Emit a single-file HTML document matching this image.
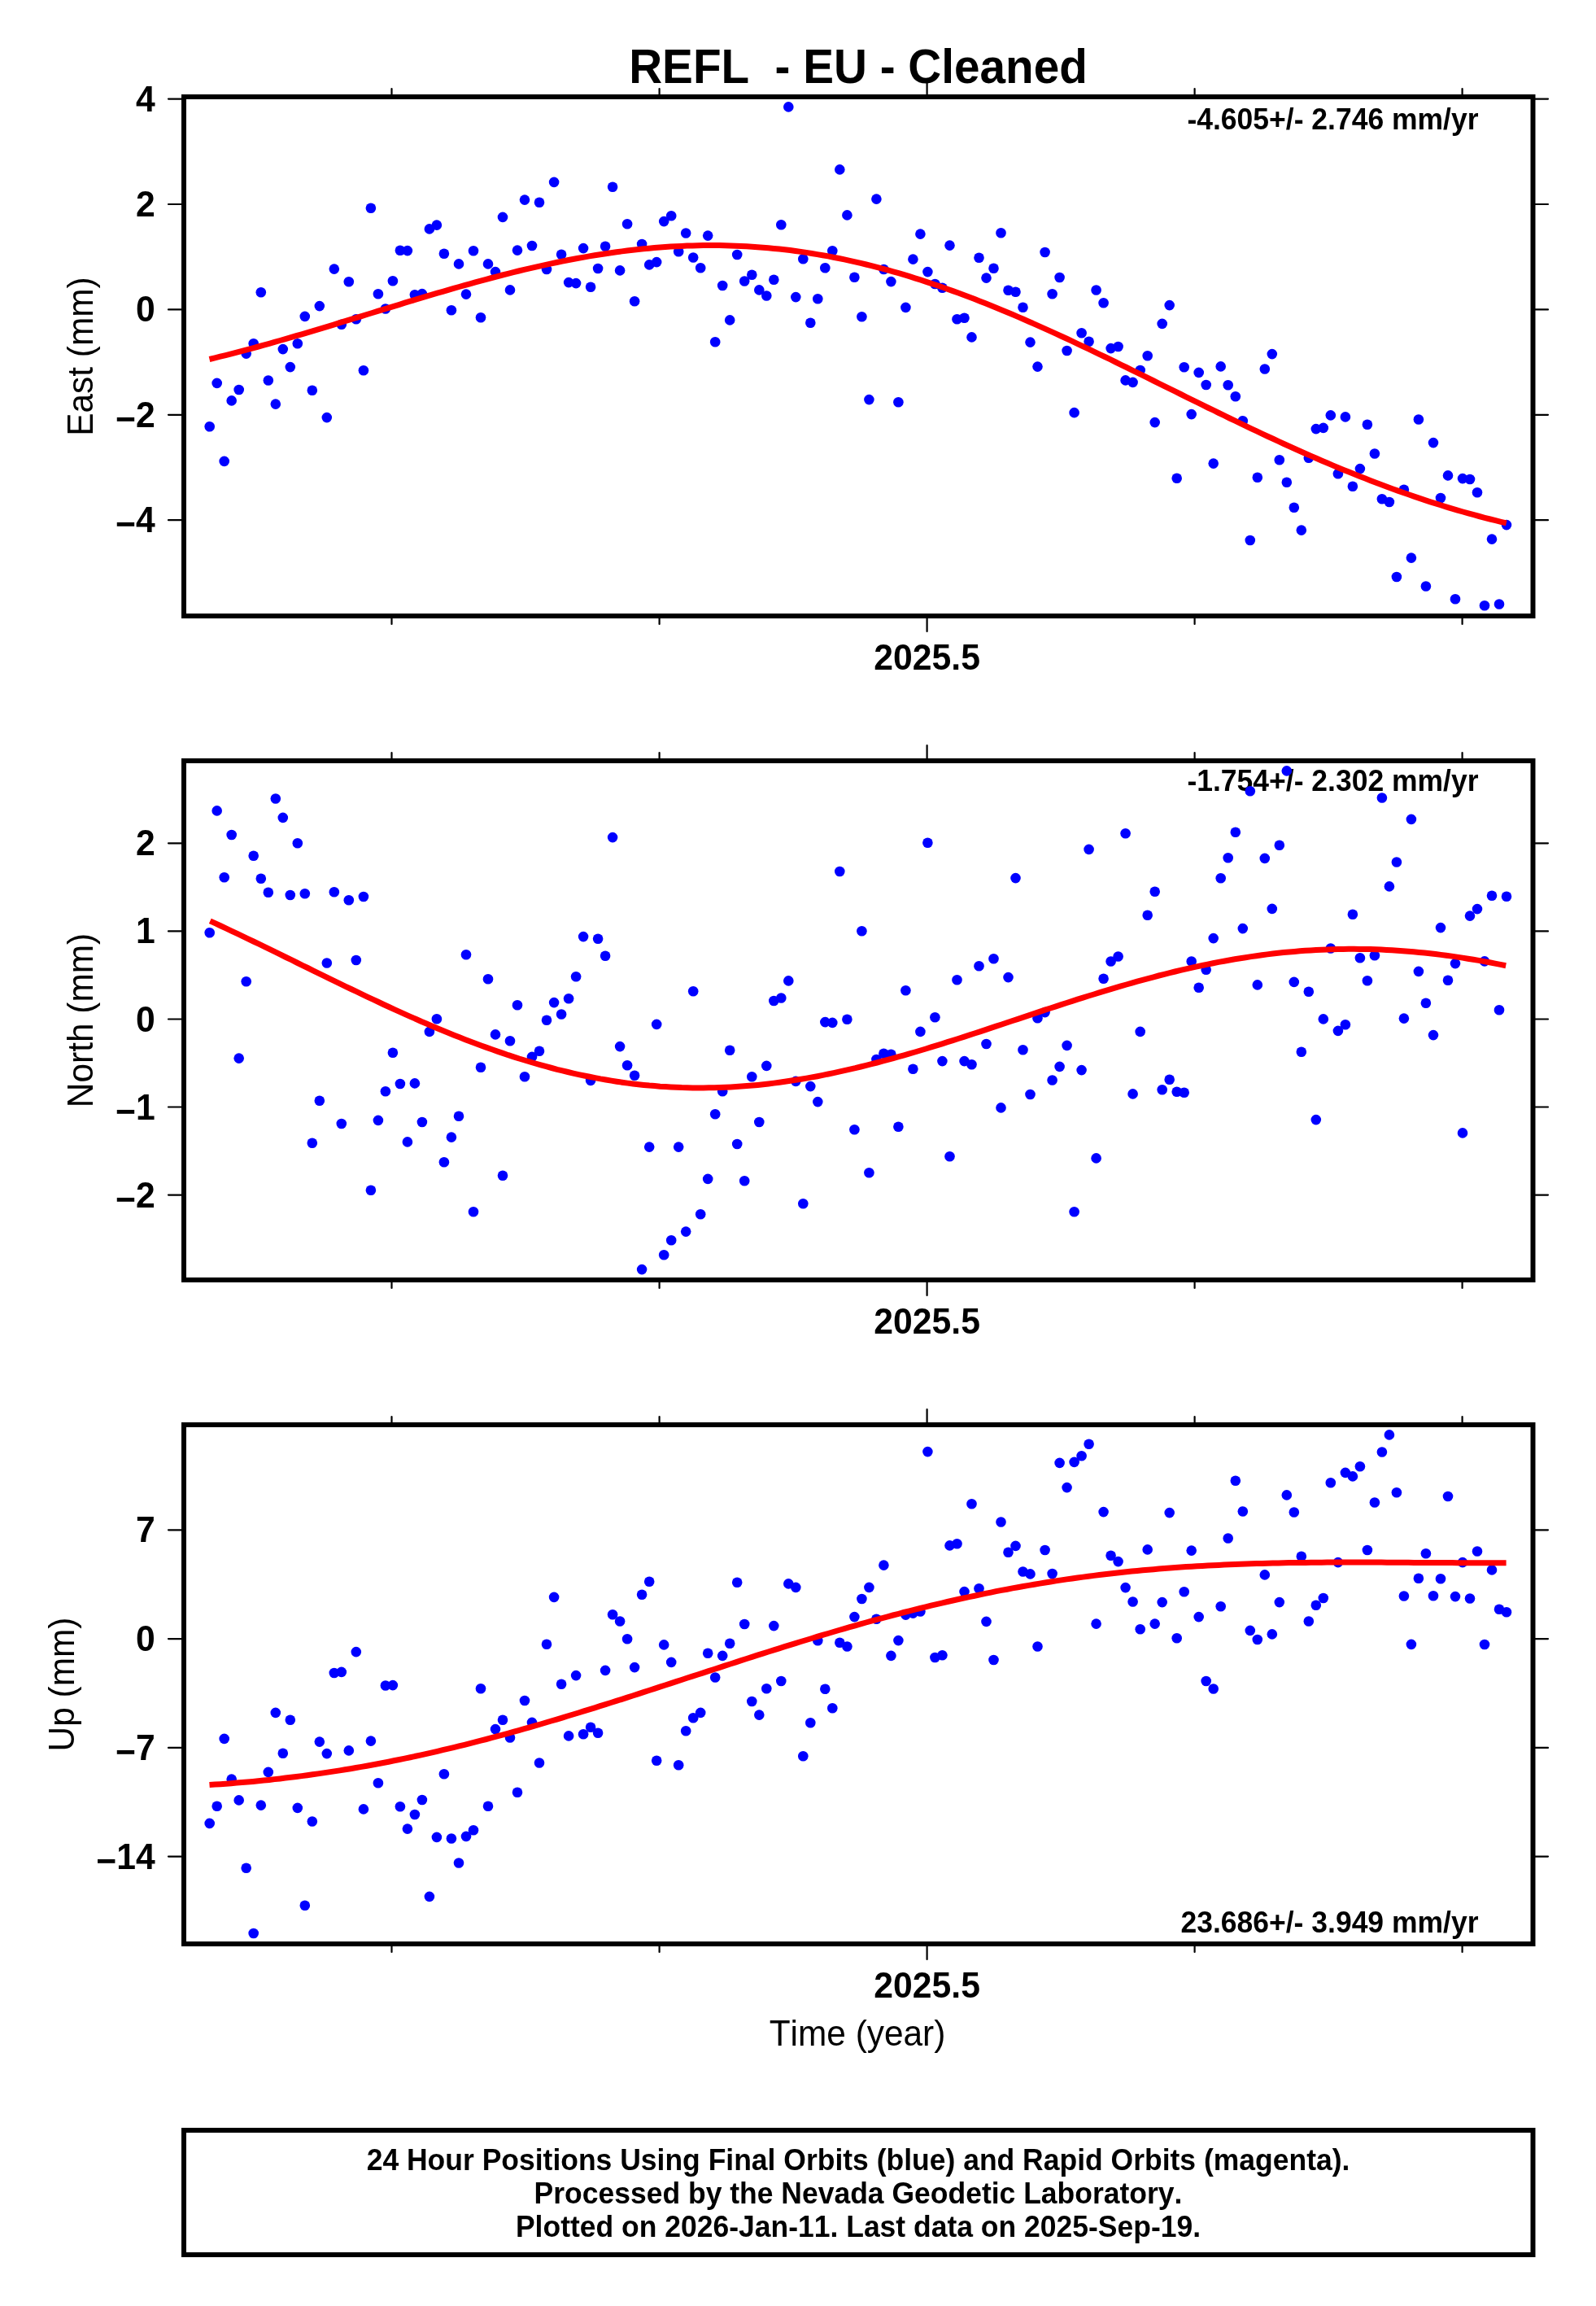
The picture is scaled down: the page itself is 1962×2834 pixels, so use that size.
<!DOCTYPE html>
<html><head><meta charset="utf-8"><style>
html,body{margin:0;padding:0;background:#fff;width:1962px;height:2834px;overflow:hidden}
svg{display:block;will-change:transform}
text{font-family:"Liberation Sans",sans-serif;font-kerning:none;white-space:pre}
.b{font-weight:bold}
.r{font-weight:normal}
.t{stroke:#000;stroke-width:2.2;stroke-linecap:round}
</style></head><body>
<svg width="1962" height="2834" viewBox="0 0 1962 2834">
<rect width="1962" height="2834" fill="#fff"/>
<text transform="translate(1055.0,101.8) scale(1,1.045)" class="b" font-size="56.7" text-anchor="middle">REFL  - EU - Cleaned</text>
<text transform="translate(1817.5,159.2) scale(1,1.045)" class="b" font-size="35.5" text-anchor="end">-4.605+/- 2.746 mm/yr</text>
<g>
<circle cx="257.7" cy="524.3" r="6.3" fill="#00f"/>
<circle cx="266.7" cy="470.9" r="6.3" fill="#00f"/>
<circle cx="275.7" cy="566.9" r="6.3" fill="#00f"/>
<circle cx="284.7" cy="492.4" r="6.3" fill="#00f"/>
<circle cx="293.7" cy="479.0" r="6.3" fill="#00f"/>
<circle cx="302.7" cy="434.6" r="6.3" fill="#00f"/>
<circle cx="311.7" cy="422.3" r="6.3" fill="#00f"/>
<circle cx="320.8" cy="359.2" r="6.3" fill="#00f"/>
<circle cx="329.8" cy="467.5" r="6.3" fill="#00f"/>
<circle cx="338.8" cy="496.6" r="6.3" fill="#00f"/>
<circle cx="347.8" cy="429.1" r="6.3" fill="#00f"/>
<circle cx="356.8" cy="451.1" r="6.3" fill="#00f"/>
<circle cx="365.8" cy="422.3" r="6.3" fill="#00f"/>
<circle cx="374.8" cy="388.9" r="6.3" fill="#00f"/>
<circle cx="383.8" cy="479.8" r="6.3" fill="#00f"/>
<circle cx="392.8" cy="376.1" r="6.3" fill="#00f"/>
<circle cx="401.8" cy="513.1" r="6.3" fill="#00f"/>
<circle cx="410.8" cy="330.6" r="6.3" fill="#00f"/>
<circle cx="419.8" cy="398.8" r="6.3" fill="#00f"/>
<circle cx="428.8" cy="346.2" r="6.3" fill="#00f"/>
<circle cx="437.8" cy="392.2" r="6.3" fill="#00f"/>
<circle cx="446.9" cy="455.3" r="6.3" fill="#00f"/>
<circle cx="455.9" cy="255.8" r="6.3" fill="#00f"/>
<circle cx="464.9" cy="361.3" r="6.3" fill="#00f"/>
<circle cx="473.9" cy="379.5" r="6.3" fill="#00f"/>
<circle cx="482.9" cy="345.3" r="6.3" fill="#00f"/>
<circle cx="491.9" cy="307.7" r="6.3" fill="#00f"/>
<circle cx="500.9" cy="308.1" r="6.3" fill="#00f"/>
<circle cx="509.9" cy="362.2" r="6.3" fill="#00f"/>
<circle cx="518.9" cy="361.1" r="6.3" fill="#00f"/>
<circle cx="527.9" cy="281.4" r="6.3" fill="#00f"/>
<circle cx="536.9" cy="276.6" r="6.3" fill="#00f"/>
<circle cx="545.9" cy="311.8" r="6.3" fill="#00f"/>
<circle cx="554.9" cy="381.2" r="6.3" fill="#00f"/>
<circle cx="564.0" cy="324.4" r="6.3" fill="#00f"/>
<circle cx="573.0" cy="361.6" r="6.3" fill="#00f"/>
<circle cx="582.0" cy="308.2" r="6.3" fill="#00f"/>
<circle cx="591.0" cy="390.3" r="6.3" fill="#00f"/>
<circle cx="600.0" cy="324.4" r="6.3" fill="#00f"/>
<circle cx="609.0" cy="334.1" r="6.3" fill="#00f"/>
<circle cx="618.0" cy="266.9" r="6.3" fill="#00f"/>
<circle cx="627.0" cy="356.4" r="6.3" fill="#00f"/>
<circle cx="636.0" cy="307.6" r="6.3" fill="#00f"/>
<circle cx="645.0" cy="245.6" r="6.3" fill="#00f"/>
<circle cx="654.0" cy="302.0" r="6.3" fill="#00f"/>
<circle cx="663.0" cy="248.7" r="6.3" fill="#00f"/>
<circle cx="672.0" cy="331.0" r="6.3" fill="#00f"/>
<circle cx="681.1" cy="223.9" r="6.3" fill="#00f"/>
<circle cx="690.1" cy="312.8" r="6.3" fill="#00f"/>
<circle cx="699.1" cy="347.1" r="6.3" fill="#00f"/>
<circle cx="708.1" cy="348.1" r="6.3" fill="#00f"/>
<circle cx="717.1" cy="305.1" r="6.3" fill="#00f"/>
<circle cx="726.1" cy="352.7" r="6.3" fill="#00f"/>
<circle cx="735.1" cy="330.0" r="6.3" fill="#00f"/>
<circle cx="744.1" cy="302.7" r="6.3" fill="#00f"/>
<circle cx="753.1" cy="229.7" r="6.3" fill="#00f"/>
<circle cx="762.1" cy="332.4" r="6.3" fill="#00f"/>
<circle cx="771.1" cy="275.2" r="6.3" fill="#00f"/>
<circle cx="780.1" cy="370.3" r="6.3" fill="#00f"/>
<circle cx="789.1" cy="300.0" r="6.3" fill="#00f"/>
<circle cx="798.2" cy="325.4" r="6.3" fill="#00f"/>
<circle cx="807.2" cy="322.1" r="6.3" fill="#00f"/>
<circle cx="816.2" cy="272.1" r="6.3" fill="#00f"/>
<circle cx="825.2" cy="265.2" r="6.3" fill="#00f"/>
<circle cx="834.2" cy="309.3" r="6.3" fill="#00f"/>
<circle cx="843.2" cy="286.5" r="6.3" fill="#00f"/>
<circle cx="852.2" cy="316.5" r="6.3" fill="#00f"/>
<circle cx="861.2" cy="329.3" r="6.3" fill="#00f"/>
<circle cx="870.2" cy="289.6" r="6.3" fill="#00f"/>
<circle cx="879.2" cy="420.3" r="6.3" fill="#00f"/>
<circle cx="888.2" cy="351.0" r="6.3" fill="#00f"/>
<circle cx="897.2" cy="393.4" r="6.3" fill="#00f"/>
<circle cx="906.2" cy="313.0" r="6.3" fill="#00f"/>
<circle cx="915.2" cy="345.5" r="6.3" fill="#00f"/>
<circle cx="924.3" cy="337.8" r="6.3" fill="#00f"/>
<circle cx="933.3" cy="356.4" r="6.3" fill="#00f"/>
<circle cx="942.3" cy="363.5" r="6.3" fill="#00f"/>
<circle cx="951.3" cy="343.8" r="6.3" fill="#00f"/>
<circle cx="960.3" cy="276.2" r="6.3" fill="#00f"/>
<circle cx="969.3" cy="131.4" r="6.3" fill="#00f"/>
<circle cx="978.3" cy="365.1" r="6.3" fill="#00f"/>
<circle cx="987.3" cy="318.2" r="6.3" fill="#00f"/>
<circle cx="996.3" cy="396.7" r="6.3" fill="#00f"/>
<circle cx="1005.3" cy="367.2" r="6.3" fill="#00f"/>
<circle cx="1014.3" cy="329.3" r="6.3" fill="#00f"/>
<circle cx="1023.3" cy="308.2" r="6.3" fill="#00f"/>
<circle cx="1032.3" cy="208.4" r="6.3" fill="#00f"/>
<circle cx="1041.4" cy="264.4" r="6.3" fill="#00f"/>
<circle cx="1050.4" cy="340.7" r="6.3" fill="#00f"/>
<circle cx="1059.4" cy="389.3" r="6.3" fill="#00f"/>
<circle cx="1068.4" cy="491.1" r="6.3" fill="#00f"/>
<circle cx="1077.4" cy="244.6" r="6.3" fill="#00f"/>
<circle cx="1086.4" cy="331.0" r="6.3" fill="#00f"/>
<circle cx="1095.4" cy="346.1" r="6.3" fill="#00f"/>
<circle cx="1104.4" cy="494.2" r="6.3" fill="#00f"/>
<circle cx="1113.4" cy="377.9" r="6.3" fill="#00f"/>
<circle cx="1122.4" cy="318.6" r="6.3" fill="#00f"/>
<circle cx="1131.4" cy="287.6" r="6.3" fill="#00f"/>
<circle cx="1140.4" cy="334.1" r="6.3" fill="#00f"/>
<circle cx="1149.4" cy="349.0" r="6.3" fill="#00f"/>
<circle cx="1158.4" cy="353.7" r="6.3" fill="#00f"/>
<circle cx="1167.5" cy="301.6" r="6.3" fill="#00f"/>
<circle cx="1176.5" cy="392.3" r="6.3" fill="#00f"/>
<circle cx="1185.5" cy="390.7" r="6.3" fill="#00f"/>
<circle cx="1194.5" cy="414.4" r="6.3" fill="#00f"/>
<circle cx="1203.5" cy="316.8" r="6.3" fill="#00f"/>
<circle cx="1212.5" cy="341.6" r="6.3" fill="#00f"/>
<circle cx="1221.5" cy="329.7" r="6.3" fill="#00f"/>
<circle cx="1230.5" cy="286.2" r="6.3" fill="#00f"/>
<circle cx="1239.5" cy="356.7" r="6.3" fill="#00f"/>
<circle cx="1248.5" cy="358.8" r="6.3" fill="#00f"/>
<circle cx="1257.5" cy="377.8" r="6.3" fill="#00f"/>
<circle cx="1266.5" cy="420.6" r="6.3" fill="#00f"/>
<circle cx="1275.5" cy="450.6" r="6.3" fill="#00f"/>
<circle cx="1284.6" cy="310.0" r="6.3" fill="#00f"/>
<circle cx="1293.6" cy="361.3" r="6.3" fill="#00f"/>
<circle cx="1302.6" cy="341.0" r="6.3" fill="#00f"/>
<circle cx="1311.6" cy="431.0" r="6.3" fill="#00f"/>
<circle cx="1320.6" cy="507.1" r="6.3" fill="#00f"/>
<circle cx="1329.6" cy="409.3" r="6.3" fill="#00f"/>
<circle cx="1338.6" cy="419.8" r="6.3" fill="#00f"/>
<circle cx="1347.6" cy="356.5" r="6.3" fill="#00f"/>
<circle cx="1356.6" cy="372.2" r="6.3" fill="#00f"/>
<circle cx="1365.6" cy="428.1" r="6.3" fill="#00f"/>
<circle cx="1374.6" cy="426.0" r="6.3" fill="#00f"/>
<circle cx="1383.6" cy="467.4" r="6.3" fill="#00f"/>
<circle cx="1392.6" cy="469.9" r="6.3" fill="#00f"/>
<circle cx="1401.7" cy="455.0" r="6.3" fill="#00f"/>
<circle cx="1410.7" cy="437.2" r="6.3" fill="#00f"/>
<circle cx="1419.7" cy="519.1" r="6.3" fill="#00f"/>
<circle cx="1428.7" cy="397.9" r="6.3" fill="#00f"/>
<circle cx="1437.7" cy="375.1" r="6.3" fill="#00f"/>
<circle cx="1446.7" cy="587.8" r="6.3" fill="#00f"/>
<circle cx="1455.7" cy="451.2" r="6.3" fill="#00f"/>
<circle cx="1464.7" cy="509.1" r="6.3" fill="#00f"/>
<circle cx="1473.7" cy="457.9" r="6.3" fill="#00f"/>
<circle cx="1482.7" cy="473.0" r="6.3" fill="#00f"/>
<circle cx="1491.7" cy="569.6" r="6.3" fill="#00f"/>
<circle cx="1500.7" cy="450.4" r="6.3" fill="#00f"/>
<circle cx="1509.7" cy="473.3" r="6.3" fill="#00f"/>
<circle cx="1518.8" cy="487.2" r="6.3" fill="#00f"/>
<circle cx="1527.8" cy="517.2" r="6.3" fill="#00f"/>
<circle cx="1536.8" cy="664.0" r="6.3" fill="#00f"/>
<circle cx="1545.8" cy="586.7" r="6.3" fill="#00f"/>
<circle cx="1554.8" cy="453.5" r="6.3" fill="#00f"/>
<circle cx="1563.8" cy="435.1" r="6.3" fill="#00f"/>
<circle cx="1572.8" cy="565.2" r="6.3" fill="#00f"/>
<circle cx="1581.8" cy="592.7" r="6.3" fill="#00f"/>
<circle cx="1590.8" cy="623.7" r="6.3" fill="#00f"/>
<circle cx="1599.8" cy="651.6" r="6.3" fill="#00f"/>
<circle cx="1608.8" cy="562.7" r="6.3" fill="#00f"/>
<circle cx="1617.8" cy="527.1" r="6.3" fill="#00f"/>
<circle cx="1626.8" cy="525.9" r="6.3" fill="#00f"/>
<circle cx="1635.8" cy="510.4" r="6.3" fill="#00f"/>
<circle cx="1644.9" cy="582.3" r="6.3" fill="#00f"/>
<circle cx="1653.9" cy="512.4" r="6.3" fill="#00f"/>
<circle cx="1662.9" cy="597.8" r="6.3" fill="#00f"/>
<circle cx="1671.9" cy="576.1" r="6.3" fill="#00f"/>
<circle cx="1680.9" cy="521.7" r="6.3" fill="#00f"/>
<circle cx="1689.9" cy="557.5" r="6.3" fill="#00f"/>
<circle cx="1698.9" cy="613.3" r="6.3" fill="#00f"/>
<circle cx="1707.9" cy="617.0" r="6.3" fill="#00f"/>
<circle cx="1716.9" cy="709.0" r="6.3" fill="#00f"/>
<circle cx="1725.9" cy="601.7" r="6.3" fill="#00f"/>
<circle cx="1734.9" cy="685.6" r="6.3" fill="#00f"/>
<circle cx="1743.9" cy="515.5" r="6.3" fill="#00f"/>
<circle cx="1752.9" cy="720.5" r="6.3" fill="#00f"/>
<circle cx="1762.0" cy="544.1" r="6.3" fill="#00f"/>
<circle cx="1771.0" cy="612.0" r="6.3" fill="#00f"/>
<circle cx="1780.0" cy="584.4" r="6.3" fill="#00f"/>
<circle cx="1789.0" cy="736.3" r="6.3" fill="#00f"/>
<circle cx="1798.0" cy="588.1" r="6.3" fill="#00f"/>
<circle cx="1807.0" cy="589.0" r="6.3" fill="#00f"/>
<circle cx="1816.0" cy="605.2" r="6.3" fill="#00f"/>
<circle cx="1825.0" cy="744.3" r="6.3" fill="#00f"/>
<circle cx="1834.0" cy="662.6" r="6.3" fill="#00f"/>
<circle cx="1843.0" cy="742.5" r="6.3" fill="#00f"/>
<circle cx="1852.0" cy="645.1" r="6.3" fill="#00f"/>
<path d="M257.5,441.5 L264.2,439.9 L270.8,438.2 L277.5,436.6 L284.2,434.9 L290.9,433.1 L297.5,431.4 L304.2,429.6 L310.9,427.8 L317.5,426.0 L324.2,424.1 L330.9,422.3 L337.5,420.4 L344.2,418.5 L350.9,416.6 L357.6,414.7 L364.2,412.7 L370.9,410.8 L377.6,408.8 L384.2,406.8 L390.9,404.8 L397.6,402.8 L404.3,400.8 L410.9,398.8 L417.6,396.7 L424.3,394.7 L430.9,392.7 L437.6,390.6 L444.3,388.6 L451.0,386.5 L457.6,384.5 L464.3,382.4 L471.0,380.4 L477.6,378.3 L484.3,376.3 L491.0,374.3 L497.6,372.2 L504.3,370.2 L511.0,368.2 L517.7,366.2 L524.3,364.2 L531.0,362.2 L537.7,360.2 L544.3,358.3 L551.0,356.3 L557.7,354.4 L564.4,352.5 L571.0,350.6 L577.7,348.8 L584.4,346.9 L591.0,345.1 L597.7,343.3 L604.4,341.5 L611.0,339.8 L617.7,338.0 L624.4,336.4 L631.1,334.7 L637.7,333.0 L644.4,331.4 L651.1,329.9 L657.7,328.3 L664.4,326.8 L671.1,325.3 L677.8,323.9 L684.4,322.5 L691.1,321.1 L697.8,319.8 L704.4,318.5 L711.1,317.3 L717.8,316.1 L724.4,314.9 L731.1,313.8 L737.8,312.7 L744.5,311.7 L751.1,310.7 L757.8,309.8 L764.5,308.9 L771.1,308.0 L777.8,307.2 L784.5,306.5 L791.2,305.8 L797.8,305.2 L804.5,304.6 L811.2,304.0 L817.8,303.5 L824.5,303.1 L831.2,302.7 L837.9,302.4 L844.5,302.1 L851.2,301.9 L857.9,301.7 L864.5,301.6 L871.2,301.6 L877.9,301.6 L884.5,301.6 L891.2,301.7 L897.9,301.9 L904.6,302.2 L911.2,302.4 L917.9,302.8 L924.6,303.2 L931.2,303.7 L937.9,304.2 L944.6,304.7 L951.3,305.4 L957.9,306.1 L964.6,306.8 L971.3,307.6 L977.9,308.5 L984.6,309.4 L991.3,310.4 L997.9,311.5 L1004.6,312.6 L1011.3,313.7 L1018.0,314.9 L1024.6,316.2 L1031.3,317.5 L1038.0,318.9 L1044.6,320.3 L1051.3,321.8 L1058.0,323.4 L1064.7,325.0 L1071.3,326.6 L1078.0,328.4 L1084.7,330.1 L1091.3,331.9 L1098.0,333.8 L1104.7,335.7 L1111.4,337.7 L1118.0,339.7 L1124.7,341.8 L1131.4,343.9 L1138.0,346.1 L1144.7,348.3 L1151.4,350.5 L1158.0,352.8 L1164.7,355.2 L1171.4,357.6 L1178.1,360.0 L1184.7,362.5 L1191.4,365.0 L1198.1,367.6 L1204.7,370.2 L1211.4,372.8 L1218.1,375.5 L1224.8,378.2 L1231.4,380.9 L1238.1,383.7 L1244.8,386.5 L1251.4,389.4 L1258.1,392.3 L1264.8,395.2 L1271.4,398.1 L1278.1,401.1 L1284.8,404.1 L1291.5,407.1 L1298.1,410.1 L1304.8,413.2 L1311.5,416.3 L1318.1,419.4 L1324.8,422.6 L1331.5,425.7 L1338.2,428.9 L1344.8,432.1 L1351.5,435.3 L1358.2,438.5 L1364.8,441.7 L1371.5,445.0 L1378.2,448.3 L1384.9,451.5 L1391.5,454.8 L1398.2,458.1 L1404.9,461.4 L1411.5,464.7 L1418.2,468.0 L1424.9,471.3 L1431.5,474.6 L1438.2,477.9 L1444.9,481.2 L1451.6,484.5 L1458.2,487.8 L1464.9,491.1 L1471.6,494.4 L1478.2,497.7 L1484.9,501.0 L1491.6,504.2 L1498.3,507.5 L1504.9,510.7 L1511.6,514.0 L1518.3,517.2 L1524.9,520.4 L1531.6,523.6 L1538.3,526.8 L1544.9,529.9 L1551.6,533.1 L1558.3,536.2 L1565.0,539.3 L1571.6,542.4 L1578.3,545.5 L1585.0,548.5 L1591.6,551.5 L1598.3,554.5 L1605.0,557.5 L1611.7,560.4 L1618.3,563.3 L1625.0,566.2 L1631.7,569.0 L1638.3,571.9 L1645.0,574.7 L1651.7,577.4 L1658.3,580.1 L1665.0,582.8 L1671.7,585.5 L1678.4,588.1 L1685.0,590.7 L1691.7,593.3 L1698.4,595.8 L1705.0,598.3 L1711.7,600.7 L1718.4,603.1 L1725.1,605.5 L1731.7,607.8 L1738.4,610.1 L1745.1,612.4 L1751.7,614.6 L1758.4,616.8 L1765.1,618.9 L1771.8,621.0 L1778.4,623.1 L1785.1,625.1 L1791.8,627.1 L1798.4,629.0 L1805.1,630.9 L1811.8,632.7 L1818.4,634.5 L1825.1,636.3 L1831.8,638.0 L1838.5,639.7 L1845.1,641.3 L1851.8,642.9" fill="none" stroke="#f00" stroke-width="7" stroke-linejoin="round"/>
</g>
<rect x="226" y="119" width="1658.5" height="638" fill="none" stroke="#000" stroke-width="6"/>
<line x1="1139.6" y1="116" x2="1139.6" y2="100" class="t"/>
<line x1="1139.6" y1="760" x2="1139.6" y2="776" class="t"/>
<line x1="481.5" y1="116" x2="481.5" y2="109" class="t"/>
<line x1="481.5" y1="760" x2="481.5" y2="767" class="t"/>
<line x1="810.6" y1="116" x2="810.6" y2="109" class="t"/>
<line x1="810.6" y1="760" x2="810.6" y2="767" class="t"/>
<line x1="1468.6" y1="116" x2="1468.6" y2="109" class="t"/>
<line x1="1468.6" y1="760" x2="1468.6" y2="767" class="t"/>
<line x1="1797.6" y1="116" x2="1797.6" y2="109" class="t"/>
<line x1="1797.6" y1="760" x2="1797.6" y2="767" class="t"/>
<line x1="207" y1="121.6" x2="223" y2="121.6" class="t"/>
<line x1="1887" y1="121.6" x2="1903" y2="121.6" class="t"/>
<text transform="translate(190.7,136.6) scale(1,1.045)" class="b" font-size="42.7" text-anchor="end">4</text>
<line x1="207" y1="251.0" x2="223" y2="251.0" class="t"/>
<line x1="1887" y1="251.0" x2="1903" y2="251.0" class="t"/>
<text transform="translate(190.7,266.0) scale(1,1.045)" class="b" font-size="42.7" text-anchor="end">2</text>
<line x1="207" y1="380.4" x2="223" y2="380.4" class="t"/>
<line x1="1887" y1="380.4" x2="1903" y2="380.4" class="t"/>
<text transform="translate(190.7,395.4) scale(1,1.045)" class="b" font-size="42.7" text-anchor="end">0</text>
<line x1="207" y1="509.8" x2="223" y2="509.8" class="t"/>
<line x1="1887" y1="509.8" x2="1903" y2="509.8" class="t"/>
<text transform="translate(190.7,524.8) scale(1,1.045)" class="b" font-size="42.7" text-anchor="end"><tspan dy="5.0">−</tspan><tspan dy="-5.0">2</tspan></text>
<line x1="207" y1="639.2" x2="223" y2="639.2" class="t"/>
<line x1="1887" y1="639.2" x2="1903" y2="639.2" class="t"/>
<text transform="translate(190.7,654.2) scale(1,1.045)" class="b" font-size="42.7" text-anchor="end"><tspan dy="5.0">−</tspan><tspan dy="-5.0">4</tspan></text>
<text transform="translate(1139.6,823.2) scale(1,1.045)" class="b" font-size="42.7" text-anchor="middle">2025.5</text>
<text transform="translate(114.0,438.0) rotate(-90) scale(1,1.045)" class="r" font-size="42.4" text-anchor="middle">East (mm)</text>
<text transform="translate(1817.5,972.3) scale(1,1.045)" class="b" font-size="35.5" text-anchor="end">-1.754+/- 2.302 mm/yr</text>
<g>
<circle cx="257.7" cy="1146.3" r="6.3" fill="#00f"/>
<circle cx="266.7" cy="996.4" r="6.3" fill="#00f"/>
<circle cx="275.7" cy="1078.3" r="6.3" fill="#00f"/>
<circle cx="284.7" cy="1026.0" r="6.3" fill="#00f"/>
<circle cx="293.7" cy="1300.6" r="6.3" fill="#00f"/>
<circle cx="302.7" cy="1206.3" r="6.3" fill="#00f"/>
<circle cx="311.7" cy="1051.8" r="6.3" fill="#00f"/>
<circle cx="320.8" cy="1079.7" r="6.3" fill="#00f"/>
<circle cx="329.8" cy="1096.7" r="6.3" fill="#00f"/>
<circle cx="338.8" cy="981.5" r="6.3" fill="#00f"/>
<circle cx="347.8" cy="1004.9" r="6.3" fill="#00f"/>
<circle cx="356.8" cy="1100.0" r="6.3" fill="#00f"/>
<circle cx="365.8" cy="1036.3" r="6.3" fill="#00f"/>
<circle cx="374.8" cy="1098.3" r="6.3" fill="#00f"/>
<circle cx="383.8" cy="1404.8" r="6.3" fill="#00f"/>
<circle cx="392.8" cy="1352.7" r="6.3" fill="#00f"/>
<circle cx="401.8" cy="1183.5" r="6.3" fill="#00f"/>
<circle cx="410.8" cy="1096.3" r="6.3" fill="#00f"/>
<circle cx="419.8" cy="1381.0" r="6.3" fill="#00f"/>
<circle cx="428.8" cy="1106.2" r="6.3" fill="#00f"/>
<circle cx="437.8" cy="1180.0" r="6.3" fill="#00f"/>
<circle cx="446.9" cy="1102.0" r="6.3" fill="#00f"/>
<circle cx="455.9" cy="1462.7" r="6.3" fill="#00f"/>
<circle cx="464.9" cy="1376.9" r="6.3" fill="#00f"/>
<circle cx="473.9" cy="1341.3" r="6.3" fill="#00f"/>
<circle cx="482.9" cy="1293.8" r="6.3" fill="#00f"/>
<circle cx="491.9" cy="1332.0" r="6.3" fill="#00f"/>
<circle cx="500.9" cy="1403.4" r="6.3" fill="#00f"/>
<circle cx="509.9" cy="1331.4" r="6.3" fill="#00f"/>
<circle cx="518.9" cy="1379.0" r="6.3" fill="#00f"/>
<circle cx="527.9" cy="1267.9" r="6.3" fill="#00f"/>
<circle cx="536.9" cy="1252.2" r="6.3" fill="#00f"/>
<circle cx="545.9" cy="1428.2" r="6.3" fill="#00f"/>
<circle cx="554.9" cy="1397.6" r="6.3" fill="#00f"/>
<circle cx="564.0" cy="1371.7" r="6.3" fill="#00f"/>
<circle cx="573.0" cy="1173.2" r="6.3" fill="#00f"/>
<circle cx="582.0" cy="1489.2" r="6.3" fill="#00f"/>
<circle cx="591.0" cy="1311.8" r="6.3" fill="#00f"/>
<circle cx="600.0" cy="1203.2" r="6.3" fill="#00f"/>
<circle cx="609.0" cy="1271.4" r="6.3" fill="#00f"/>
<circle cx="618.0" cy="1444.7" r="6.3" fill="#00f"/>
<circle cx="627.0" cy="1279.3" r="6.3" fill="#00f"/>
<circle cx="636.0" cy="1235.2" r="6.3" fill="#00f"/>
<circle cx="645.0" cy="1323.3" r="6.3" fill="#00f"/>
<circle cx="654.0" cy="1298.9" r="6.3" fill="#00f"/>
<circle cx="663.0" cy="1291.7" r="6.3" fill="#00f"/>
<circle cx="672.0" cy="1253.7" r="6.3" fill="#00f"/>
<circle cx="681.1" cy="1232.1" r="6.3" fill="#00f"/>
<circle cx="690.1" cy="1246.5" r="6.3" fill="#00f"/>
<circle cx="699.1" cy="1227.2" r="6.3" fill="#00f"/>
<circle cx="708.1" cy="1200.3" r="6.3" fill="#00f"/>
<circle cx="717.1" cy="1151.1" r="6.3" fill="#00f"/>
<circle cx="726.1" cy="1327.9" r="6.3" fill="#00f"/>
<circle cx="735.1" cy="1153.7" r="6.3" fill="#00f"/>
<circle cx="744.1" cy="1174.8" r="6.3" fill="#00f"/>
<circle cx="753.1" cy="1029.1" r="6.3" fill="#00f"/>
<circle cx="762.1" cy="1286.1" r="6.3" fill="#00f"/>
<circle cx="771.1" cy="1309.3" r="6.3" fill="#00f"/>
<circle cx="780.1" cy="1321.7" r="6.3" fill="#00f"/>
<circle cx="789.1" cy="1560.1" r="6.3" fill="#00f"/>
<circle cx="798.2" cy="1409.6" r="6.3" fill="#00f"/>
<circle cx="807.2" cy="1258.9" r="6.3" fill="#00f"/>
<circle cx="816.2" cy="1542.3" r="6.3" fill="#00f"/>
<circle cx="825.2" cy="1524.3" r="6.3" fill="#00f"/>
<circle cx="834.2" cy="1409.6" r="6.3" fill="#00f"/>
<circle cx="843.2" cy="1513.6" r="6.3" fill="#00f"/>
<circle cx="852.2" cy="1218.3" r="6.3" fill="#00f"/>
<circle cx="861.2" cy="1492.3" r="6.3" fill="#00f"/>
<circle cx="870.2" cy="1448.9" r="6.3" fill="#00f"/>
<circle cx="879.2" cy="1369.2" r="6.3" fill="#00f"/>
<circle cx="888.2" cy="1341.3" r="6.3" fill="#00f"/>
<circle cx="897.2" cy="1290.7" r="6.3" fill="#00f"/>
<circle cx="906.2" cy="1406.0" r="6.3" fill="#00f"/>
<circle cx="915.2" cy="1451.3" r="6.3" fill="#00f"/>
<circle cx="924.3" cy="1323.3" r="6.3" fill="#00f"/>
<circle cx="933.3" cy="1379.0" r="6.3" fill="#00f"/>
<circle cx="942.3" cy="1309.9" r="6.3" fill="#00f"/>
<circle cx="951.3" cy="1230.0" r="6.3" fill="#00f"/>
<circle cx="960.3" cy="1226.5" r="6.3" fill="#00f"/>
<circle cx="969.3" cy="1205.4" r="6.3" fill="#00f"/>
<circle cx="978.3" cy="1328.9" r="6.3" fill="#00f"/>
<circle cx="987.3" cy="1479.2" r="6.3" fill="#00f"/>
<circle cx="996.3" cy="1335.1" r="6.3" fill="#00f"/>
<circle cx="1005.3" cy="1354.1" r="6.3" fill="#00f"/>
<circle cx="1014.3" cy="1256.1" r="6.3" fill="#00f"/>
<circle cx="1023.3" cy="1256.9" r="6.3" fill="#00f"/>
<circle cx="1032.3" cy="1071.0" r="6.3" fill="#00f"/>
<circle cx="1041.4" cy="1252.8" r="6.3" fill="#00f"/>
<circle cx="1050.4" cy="1388.3" r="6.3" fill="#00f"/>
<circle cx="1059.4" cy="1144.2" r="6.3" fill="#00f"/>
<circle cx="1068.4" cy="1441.2" r="6.3" fill="#00f"/>
<circle cx="1077.4" cy="1302.0" r="6.3" fill="#00f"/>
<circle cx="1086.4" cy="1294.8" r="6.3" fill="#00f"/>
<circle cx="1095.4" cy="1295.8" r="6.3" fill="#00f"/>
<circle cx="1104.4" cy="1384.7" r="6.3" fill="#00f"/>
<circle cx="1113.4" cy="1217.2" r="6.3" fill="#00f"/>
<circle cx="1122.4" cy="1313.8" r="6.3" fill="#00f"/>
<circle cx="1131.4" cy="1267.9" r="6.3" fill="#00f"/>
<circle cx="1140.4" cy="1035.7" r="6.3" fill="#00f"/>
<circle cx="1149.4" cy="1250.3" r="6.3" fill="#00f"/>
<circle cx="1158.4" cy="1304.1" r="6.3" fill="#00f"/>
<circle cx="1167.5" cy="1421.3" r="6.3" fill="#00f"/>
<circle cx="1176.5" cy="1204.2" r="6.3" fill="#00f"/>
<circle cx="1185.5" cy="1304.1" r="6.3" fill="#00f"/>
<circle cx="1194.5" cy="1308.2" r="6.3" fill="#00f"/>
<circle cx="1203.5" cy="1187.2" r="6.3" fill="#00f"/>
<circle cx="1212.5" cy="1283.0" r="6.3" fill="#00f"/>
<circle cx="1221.5" cy="1178.3" r="6.3" fill="#00f"/>
<circle cx="1230.5" cy="1361.4" r="6.3" fill="#00f"/>
<circle cx="1239.5" cy="1201.1" r="6.3" fill="#00f"/>
<circle cx="1248.5" cy="1079.1" r="6.3" fill="#00f"/>
<circle cx="1257.5" cy="1290.2" r="6.3" fill="#00f"/>
<circle cx="1266.5" cy="1345.0" r="6.3" fill="#00f"/>
<circle cx="1275.5" cy="1251.3" r="6.3" fill="#00f"/>
<circle cx="1284.6" cy="1244.1" r="6.3" fill="#00f"/>
<circle cx="1293.6" cy="1327.5" r="6.3" fill="#00f"/>
<circle cx="1302.6" cy="1310.9" r="6.3" fill="#00f"/>
<circle cx="1311.6" cy="1284.9" r="6.3" fill="#00f"/>
<circle cx="1320.6" cy="1489.2" r="6.3" fill="#00f"/>
<circle cx="1329.6" cy="1315.1" r="6.3" fill="#00f"/>
<circle cx="1338.6" cy="1043.9" r="6.3" fill="#00f"/>
<circle cx="1347.6" cy="1423.4" r="6.3" fill="#00f"/>
<circle cx="1356.6" cy="1202.8" r="6.3" fill="#00f"/>
<circle cx="1365.6" cy="1181.5" r="6.3" fill="#00f"/>
<circle cx="1374.6" cy="1175.5" r="6.3" fill="#00f"/>
<circle cx="1383.6" cy="1024.3" r="6.3" fill="#00f"/>
<circle cx="1392.6" cy="1344.4" r="6.3" fill="#00f"/>
<circle cx="1401.7" cy="1267.9" r="6.3" fill="#00f"/>
<circle cx="1410.7" cy="1124.8" r="6.3" fill="#00f"/>
<circle cx="1419.7" cy="1095.8" r="6.3" fill="#00f"/>
<circle cx="1428.7" cy="1339.3" r="6.3" fill="#00f"/>
<circle cx="1437.7" cy="1326.8" r="6.3" fill="#00f"/>
<circle cx="1446.7" cy="1341.7" r="6.3" fill="#00f"/>
<circle cx="1455.7" cy="1342.8" r="6.3" fill="#00f"/>
<circle cx="1464.7" cy="1181.5" r="6.3" fill="#00f"/>
<circle cx="1473.7" cy="1213.7" r="6.3" fill="#00f"/>
<circle cx="1482.7" cy="1191.8" r="6.3" fill="#00f"/>
<circle cx="1491.7" cy="1153.1" r="6.3" fill="#00f"/>
<circle cx="1500.7" cy="1079.3" r="6.3" fill="#00f"/>
<circle cx="1509.7" cy="1054.3" r="6.3" fill="#00f"/>
<circle cx="1518.8" cy="1022.8" r="6.3" fill="#00f"/>
<circle cx="1527.8" cy="1141.1" r="6.3" fill="#00f"/>
<circle cx="1536.8" cy="972.2" r="6.3" fill="#00f"/>
<circle cx="1545.8" cy="1210.4" r="6.3" fill="#00f"/>
<circle cx="1554.8" cy="1054.9" r="6.3" fill="#00f"/>
<circle cx="1563.8" cy="1116.9" r="6.3" fill="#00f"/>
<circle cx="1572.8" cy="1038.8" r="6.3" fill="#00f"/>
<circle cx="1581.8" cy="947.4" r="6.3" fill="#00f"/>
<circle cx="1590.8" cy="1206.9" r="6.3" fill="#00f"/>
<circle cx="1599.8" cy="1292.7" r="6.3" fill="#00f"/>
<circle cx="1608.8" cy="1218.7" r="6.3" fill="#00f"/>
<circle cx="1617.8" cy="1376.1" r="6.3" fill="#00f"/>
<circle cx="1626.8" cy="1252.4" r="6.3" fill="#00f"/>
<circle cx="1635.8" cy="1165.5" r="6.3" fill="#00f"/>
<circle cx="1644.9" cy="1266.9" r="6.3" fill="#00f"/>
<circle cx="1653.9" cy="1259.3" r="6.3" fill="#00f"/>
<circle cx="1662.9" cy="1123.8" r="6.3" fill="#00f"/>
<circle cx="1671.9" cy="1177.3" r="6.3" fill="#00f"/>
<circle cx="1680.9" cy="1205.2" r="6.3" fill="#00f"/>
<circle cx="1689.9" cy="1174.2" r="6.3" fill="#00f"/>
<circle cx="1698.9" cy="980.5" r="6.3" fill="#00f"/>
<circle cx="1707.9" cy="1089.4" r="6.3" fill="#00f"/>
<circle cx="1716.9" cy="1059.5" r="6.3" fill="#00f"/>
<circle cx="1725.9" cy="1251.6" r="6.3" fill="#00f"/>
<circle cx="1734.9" cy="1006.9" r="6.3" fill="#00f"/>
<circle cx="1743.9" cy="1193.9" r="6.3" fill="#00f"/>
<circle cx="1752.9" cy="1232.7" r="6.3" fill="#00f"/>
<circle cx="1762.0" cy="1272.1" r="6.3" fill="#00f"/>
<circle cx="1771.0" cy="1140.1" r="6.3" fill="#00f"/>
<circle cx="1780.0" cy="1204.8" r="6.3" fill="#00f"/>
<circle cx="1789.0" cy="1184.1" r="6.3" fill="#00f"/>
<circle cx="1798.0" cy="1392.4" r="6.3" fill="#00f"/>
<circle cx="1807.0" cy="1125.6" r="6.3" fill="#00f"/>
<circle cx="1816.0" cy="1117.1" r="6.3" fill="#00f"/>
<circle cx="1825.0" cy="1181.4" r="6.3" fill="#00f"/>
<circle cx="1834.0" cy="1100.8" r="6.3" fill="#00f"/>
<circle cx="1843.0" cy="1241.2" r="6.3" fill="#00f"/>
<circle cx="1852.0" cy="1101.7" r="6.3" fill="#00f"/>
<path d="M258.3,1131.9 L265.0,1134.9 L271.6,1138.0 L278.3,1141.1 L285.0,1144.3 L291.6,1147.4 L298.3,1150.6 L305.0,1153.8 L311.6,1157.0 L318.3,1160.2 L324.9,1163.4 L331.6,1166.7 L338.3,1169.9 L344.9,1173.2 L351.6,1176.5 L358.3,1179.7 L364.9,1183.0 L371.6,1186.3 L378.3,1189.5 L384.9,1192.8 L391.6,1196.1 L398.3,1199.3 L404.9,1202.6 L411.6,1205.8 L418.3,1209.1 L424.9,1212.3 L431.6,1215.5 L438.3,1218.7 L444.9,1221.9 L451.6,1225.1 L458.2,1228.2 L464.9,1231.3 L471.6,1234.5 L478.2,1237.5 L484.9,1240.6 L491.6,1243.6 L498.2,1246.6 L504.9,1249.6 L511.6,1252.5 L518.2,1255.5 L524.9,1258.3 L531.6,1261.2 L538.2,1264.0 L544.9,1266.8 L551.6,1269.5 L558.2,1272.2 L564.9,1274.8 L571.5,1277.4 L578.2,1280.0 L584.9,1282.5 L591.5,1285.0 L598.2,1287.4 L604.9,1289.8 L611.5,1292.1 L618.2,1294.4 L624.9,1296.7 L631.5,1298.8 L638.2,1301.0 L644.9,1303.0 L651.5,1305.0 L658.2,1307.0 L664.9,1308.9 L671.5,1310.7 L678.2,1312.5 L684.9,1314.3 L691.5,1315.9 L698.2,1317.5 L704.8,1319.1 L711.5,1320.6 L718.2,1322.0 L724.8,1323.3 L731.5,1324.6 L738.2,1325.9 L744.8,1327.0 L751.5,1328.1 L758.2,1329.2 L764.8,1330.2 L771.5,1331.1 L778.2,1331.9 L784.8,1332.7 L791.5,1333.4 L798.2,1334.1 L804.8,1334.6 L811.5,1335.2 L818.1,1335.6 L824.8,1336.0 L831.5,1336.3 L838.1,1336.6 L844.8,1336.7 L851.5,1336.9 L858.1,1336.9 L864.8,1336.9 L871.5,1336.8 L878.1,1336.7 L884.8,1336.5 L891.5,1336.2 L898.1,1335.9 L904.8,1335.5 L911.5,1335.1 L918.1,1334.6 L924.8,1334.0 L931.5,1333.4 L938.1,1332.7 L944.8,1331.9 L951.4,1331.1 L958.1,1330.2 L964.8,1329.3 L971.4,1328.3 L978.1,1327.3 L984.8,1326.2 L991.4,1325.1 L998.1,1323.9 L1004.8,1322.7 L1011.4,1321.4 L1018.1,1320.0 L1024.8,1318.6 L1031.4,1317.2 L1038.1,1315.7 L1044.8,1314.2 L1051.4,1312.7 L1058.1,1311.0 L1064.7,1309.4 L1071.4,1307.7 L1078.1,1306.0 L1084.7,1304.2 L1091.4,1302.4 L1098.1,1300.6 L1104.7,1298.7 L1111.4,1296.8 L1118.1,1294.9 L1124.7,1293.0 L1131.4,1291.0 L1138.1,1289.0 L1144.7,1286.9 L1151.4,1284.9 L1158.1,1282.8 L1164.7,1280.7 L1171.4,1278.6 L1178.0,1276.5 L1184.7,1274.3 L1191.4,1272.2 L1198.0,1270.0 L1204.7,1267.8 L1211.4,1265.6 L1218.0,1263.4 L1224.7,1261.2 L1231.4,1259.0 L1238.0,1256.8 L1244.7,1254.5 L1251.4,1252.3 L1258.0,1250.1 L1264.7,1247.9 L1271.4,1245.7 L1278.0,1243.4 L1284.7,1241.2 L1291.4,1239.0 L1298.0,1236.9 L1304.7,1234.7 L1311.3,1232.5 L1318.0,1230.4 L1324.7,1228.2 L1331.3,1226.1 L1338.0,1224.0 L1344.7,1222.0 L1351.3,1219.9 L1358.0,1217.9 L1364.7,1215.9 L1371.3,1213.9 L1378.0,1211.9 L1384.7,1210.0 L1391.3,1208.1 L1398.0,1206.2 L1404.7,1204.4 L1411.3,1202.6 L1418.0,1200.8 L1424.6,1199.0 L1431.3,1197.3 L1438.0,1195.7 L1444.6,1194.0 L1451.3,1192.4 L1458.0,1190.9 L1464.6,1189.4 L1471.3,1187.9 L1478.0,1186.5 L1484.6,1185.1 L1491.3,1183.7 L1498.0,1182.4 L1504.6,1181.2 L1511.3,1180.0 L1518.0,1178.8 L1524.6,1177.7 L1531.3,1176.7 L1538.0,1175.6 L1544.6,1174.7 L1551.3,1173.8 L1557.9,1172.9 L1564.6,1172.1 L1571.3,1171.3 L1577.9,1170.6 L1584.6,1170.0 L1591.3,1169.4 L1597.9,1168.8 L1604.6,1168.3 L1611.3,1167.9 L1617.9,1167.5 L1624.6,1167.2 L1631.3,1166.9 L1637.9,1166.7 L1644.6,1166.5 L1651.3,1166.4 L1657.9,1166.3 L1664.6,1166.3 L1671.2,1166.4 L1677.9,1166.5 L1684.6,1166.6 L1691.2,1166.8 L1697.9,1167.1 L1704.6,1167.4 L1711.2,1167.8 L1717.9,1168.2 L1724.6,1168.7 L1731.2,1169.2 L1737.9,1169.8 L1744.6,1170.4 L1751.2,1171.1 L1757.9,1171.8 L1764.6,1172.5 L1771.2,1173.4 L1777.9,1174.2 L1784.6,1175.1 L1791.2,1176.1 L1797.9,1177.1 L1804.5,1178.2 L1811.2,1179.3 L1817.9,1180.4 L1824.5,1181.6 L1831.2,1182.8 L1837.9,1184.1 L1844.5,1185.4 L1851.2,1186.7" fill="none" stroke="#f00" stroke-width="7" stroke-linejoin="round"/>
</g>
<rect x="226" y="935" width="1658.5" height="638" fill="none" stroke="#000" stroke-width="6"/>
<line x1="1139.6" y1="932" x2="1139.6" y2="916" class="t"/>
<line x1="1139.6" y1="1576" x2="1139.6" y2="1592" class="t"/>
<line x1="481.5" y1="932" x2="481.5" y2="925" class="t"/>
<line x1="481.5" y1="1576" x2="481.5" y2="1583" class="t"/>
<line x1="810.6" y1="932" x2="810.6" y2="925" class="t"/>
<line x1="810.6" y1="1576" x2="810.6" y2="1583" class="t"/>
<line x1="1468.6" y1="932" x2="1468.6" y2="925" class="t"/>
<line x1="1468.6" y1="1576" x2="1468.6" y2="1583" class="t"/>
<line x1="1797.6" y1="932" x2="1797.6" y2="925" class="t"/>
<line x1="1797.6" y1="1576" x2="1797.6" y2="1583" class="t"/>
<line x1="207" y1="1036.3" x2="223" y2="1036.3" class="t"/>
<line x1="1887" y1="1036.3" x2="1903" y2="1036.3" class="t"/>
<text transform="translate(190.7,1051.3) scale(1,1.045)" class="b" font-size="42.7" text-anchor="end">2</text>
<line x1="207" y1="1144.4" x2="223" y2="1144.4" class="t"/>
<line x1="1887" y1="1144.4" x2="1903" y2="1144.4" class="t"/>
<text transform="translate(190.7,1159.4) scale(1,1.045)" class="b" font-size="42.7" text-anchor="end">1</text>
<line x1="207" y1="1252.5" x2="223" y2="1252.5" class="t"/>
<line x1="1887" y1="1252.5" x2="1903" y2="1252.5" class="t"/>
<text transform="translate(190.7,1267.5) scale(1,1.045)" class="b" font-size="42.7" text-anchor="end">0</text>
<line x1="207" y1="1360.5" x2="223" y2="1360.5" class="t"/>
<line x1="1887" y1="1360.5" x2="1903" y2="1360.5" class="t"/>
<text transform="translate(190.7,1375.5) scale(1,1.045)" class="b" font-size="42.7" text-anchor="end"><tspan dy="5.0">−</tspan><tspan dy="-5.0">1</tspan></text>
<line x1="207" y1="1468.6" x2="223" y2="1468.6" class="t"/>
<line x1="1887" y1="1468.6" x2="1903" y2="1468.6" class="t"/>
<text transform="translate(190.7,1483.6) scale(1,1.045)" class="b" font-size="42.7" text-anchor="end"><tspan dy="5.0">−</tspan><tspan dy="-5.0">2</tspan></text>
<text transform="translate(1139.6,1639.2) scale(1,1.045)" class="b" font-size="42.7" text-anchor="middle">2025.5</text>
<text transform="translate(114.0,1254.0) rotate(-90) scale(1,1.045)" class="r" font-size="42.4" text-anchor="middle">North (mm)</text>
<text transform="translate(1817.5,2374.6) scale(1,1.045)" class="b" font-size="35.5" text-anchor="end">23.686+/- 3.949 mm/yr</text>
<g>
<circle cx="257.7" cy="2240.9" r="6.3" fill="#00f"/>
<circle cx="266.7" cy="2219.8" r="6.3" fill="#00f"/>
<circle cx="275.7" cy="2136.9" r="6.3" fill="#00f"/>
<circle cx="284.7" cy="2186.6" r="6.3" fill="#00f"/>
<circle cx="293.7" cy="2212.4" r="6.3" fill="#00f"/>
<circle cx="302.7" cy="2295.7" r="6.3" fill="#00f"/>
<circle cx="311.7" cy="2376.0" r="6.3" fill="#00f"/>
<circle cx="320.8" cy="2218.6" r="6.3" fill="#00f"/>
<circle cx="329.8" cy="2177.9" r="6.3" fill="#00f"/>
<circle cx="338.8" cy="2104.9" r="6.3" fill="#00f"/>
<circle cx="347.8" cy="2154.7" r="6.3" fill="#00f"/>
<circle cx="356.8" cy="2113.8" r="6.3" fill="#00f"/>
<circle cx="365.8" cy="2221.9" r="6.3" fill="#00f"/>
<circle cx="374.8" cy="2341.8" r="6.3" fill="#00f"/>
<circle cx="383.8" cy="2238.5" r="6.3" fill="#00f"/>
<circle cx="392.8" cy="2140.6" r="6.3" fill="#00f"/>
<circle cx="401.8" cy="2155.1" r="6.3" fill="#00f"/>
<circle cx="410.8" cy="2056.0" r="6.3" fill="#00f"/>
<circle cx="419.8" cy="2054.9" r="6.3" fill="#00f"/>
<circle cx="428.8" cy="2151.4" r="6.3" fill="#00f"/>
<circle cx="437.8" cy="2030.1" r="6.3" fill="#00f"/>
<circle cx="446.9" cy="2223.4" r="6.3" fill="#00f"/>
<circle cx="455.9" cy="2139.6" r="6.3" fill="#00f"/>
<circle cx="464.9" cy="2191.3" r="6.3" fill="#00f"/>
<circle cx="473.9" cy="2071.5" r="6.3" fill="#00f"/>
<circle cx="482.9" cy="2071.1" r="6.3" fill="#00f"/>
<circle cx="491.9" cy="2220.3" r="6.3" fill="#00f"/>
<circle cx="500.9" cy="2247.6" r="6.3" fill="#00f"/>
<circle cx="509.9" cy="2230.0" r="6.3" fill="#00f"/>
<circle cx="518.9" cy="2212.0" r="6.3" fill="#00f"/>
<circle cx="527.9" cy="2330.9" r="6.3" fill="#00f"/>
<circle cx="536.9" cy="2257.9" r="6.3" fill="#00f"/>
<circle cx="545.9" cy="2180.3" r="6.3" fill="#00f"/>
<circle cx="554.9" cy="2259.5" r="6.3" fill="#00f"/>
<circle cx="564.0" cy="2289.5" r="6.3" fill="#00f"/>
<circle cx="573.0" cy="2256.9" r="6.3" fill="#00f"/>
<circle cx="582.0" cy="2249.2" r="6.3" fill="#00f"/>
<circle cx="591.0" cy="2075.3" r="6.3" fill="#00f"/>
<circle cx="600.0" cy="2219.8" r="6.3" fill="#00f"/>
<circle cx="609.0" cy="2125.1" r="6.3" fill="#00f"/>
<circle cx="618.0" cy="2113.8" r="6.3" fill="#00f"/>
<circle cx="627.0" cy="2135.5" r="6.3" fill="#00f"/>
<circle cx="636.0" cy="2202.7" r="6.3" fill="#00f"/>
<circle cx="645.0" cy="2090.0" r="6.3" fill="#00f"/>
<circle cx="654.0" cy="2116.9" r="6.3" fill="#00f"/>
<circle cx="663.0" cy="2166.5" r="6.3" fill="#00f"/>
<circle cx="672.0" cy="2020.8" r="6.3" fill="#00f"/>
<circle cx="681.1" cy="1962.9" r="6.3" fill="#00f"/>
<circle cx="690.1" cy="2069.8" r="6.3" fill="#00f"/>
<circle cx="699.1" cy="2133.4" r="6.3" fill="#00f"/>
<circle cx="708.1" cy="2059.1" r="6.3" fill="#00f"/>
<circle cx="717.1" cy="2131.3" r="6.3" fill="#00f"/>
<circle cx="726.1" cy="2122.7" r="6.3" fill="#00f"/>
<circle cx="735.1" cy="2129.7" r="6.3" fill="#00f"/>
<circle cx="744.1" cy="2052.9" r="6.3" fill="#00f"/>
<circle cx="753.1" cy="1984.2" r="6.3" fill="#00f"/>
<circle cx="762.1" cy="1992.5" r="6.3" fill="#00f"/>
<circle cx="771.1" cy="2014.2" r="6.3" fill="#00f"/>
<circle cx="780.1" cy="2049.1" r="6.3" fill="#00f"/>
<circle cx="789.1" cy="1959.8" r="6.3" fill="#00f"/>
<circle cx="798.2" cy="1943.7" r="6.3" fill="#00f"/>
<circle cx="807.2" cy="2163.8" r="6.3" fill="#00f"/>
<circle cx="816.2" cy="2021.4" r="6.3" fill="#00f"/>
<circle cx="825.2" cy="2042.9" r="6.3" fill="#00f"/>
<circle cx="834.2" cy="2169.2" r="6.3" fill="#00f"/>
<circle cx="843.2" cy="2127.2" r="6.3" fill="#00f"/>
<circle cx="852.2" cy="2111.3" r="6.3" fill="#00f"/>
<circle cx="861.2" cy="2104.9" r="6.3" fill="#00f"/>
<circle cx="870.2" cy="2031.8" r="6.3" fill="#00f"/>
<circle cx="879.2" cy="2061.5" r="6.3" fill="#00f"/>
<circle cx="888.2" cy="2034.9" r="6.3" fill="#00f"/>
<circle cx="897.2" cy="2019.8" r="6.3" fill="#00f"/>
<circle cx="906.2" cy="1944.7" r="6.3" fill="#00f"/>
<circle cx="915.2" cy="1996.0" r="6.3" fill="#00f"/>
<circle cx="924.3" cy="2091.0" r="6.3" fill="#00f"/>
<circle cx="933.3" cy="2107.6" r="6.3" fill="#00f"/>
<circle cx="942.3" cy="2075.3" r="6.3" fill="#00f"/>
<circle cx="951.3" cy="1998.1" r="6.3" fill="#00f"/>
<circle cx="960.3" cy="2066.0" r="6.3" fill="#00f"/>
<circle cx="969.3" cy="1946.4" r="6.3" fill="#00f"/>
<circle cx="978.3" cy="1950.9" r="6.3" fill="#00f"/>
<circle cx="987.3" cy="2158.2" r="6.3" fill="#00f"/>
<circle cx="996.3" cy="2117.3" r="6.3" fill="#00f"/>
<circle cx="1005.3" cy="2016.3" r="6.3" fill="#00f"/>
<circle cx="1014.3" cy="2075.8" r="6.3" fill="#00f"/>
<circle cx="1023.3" cy="2099.3" r="6.3" fill="#00f"/>
<circle cx="1032.3" cy="2018.8" r="6.3" fill="#00f"/>
<circle cx="1041.4" cy="2023.5" r="6.3" fill="#00f"/>
<circle cx="1050.4" cy="1987.1" r="6.3" fill="#00f"/>
<circle cx="1059.4" cy="1965.0" r="6.3" fill="#00f"/>
<circle cx="1068.4" cy="1950.9" r="6.3" fill="#00f"/>
<circle cx="1077.4" cy="1989.8" r="6.3" fill="#00f"/>
<circle cx="1086.4" cy="1923.6" r="6.3" fill="#00f"/>
<circle cx="1095.4" cy="2034.9" r="6.3" fill="#00f"/>
<circle cx="1104.4" cy="2016.1" r="6.3" fill="#00f"/>
<circle cx="1113.4" cy="1984.6" r="6.3" fill="#00f"/>
<circle cx="1122.4" cy="1982.6" r="6.3" fill="#00f"/>
<circle cx="1131.4" cy="1980.5" r="6.3" fill="#00f"/>
<circle cx="1140.4" cy="1784.1" r="6.3" fill="#00f"/>
<circle cx="1149.4" cy="2037.0" r="6.3" fill="#00f"/>
<circle cx="1158.4" cy="2034.3" r="6.3" fill="#00f"/>
<circle cx="1167.5" cy="1899.4" r="6.3" fill="#00f"/>
<circle cx="1176.5" cy="1897.2" r="6.3" fill="#00f"/>
<circle cx="1185.5" cy="1956.1" r="6.3" fill="#00f"/>
<circle cx="1194.5" cy="1848.2" r="6.3" fill="#00f"/>
<circle cx="1203.5" cy="1952.2" r="6.3" fill="#00f"/>
<circle cx="1212.5" cy="1992.9" r="6.3" fill="#00f"/>
<circle cx="1221.5" cy="2040.0" r="6.3" fill="#00f"/>
<circle cx="1230.5" cy="1870.5" r="6.3" fill="#00f"/>
<circle cx="1239.5" cy="1907.7" r="6.3" fill="#00f"/>
<circle cx="1248.5" cy="1899.9" r="6.3" fill="#00f"/>
<circle cx="1257.5" cy="1931.5" r="6.3" fill="#00f"/>
<circle cx="1266.5" cy="1934.4" r="6.3" fill="#00f"/>
<circle cx="1275.5" cy="2023.5" r="6.3" fill="#00f"/>
<circle cx="1284.6" cy="1905.0" r="6.3" fill="#00f"/>
<circle cx="1293.6" cy="1934.0" r="6.3" fill="#00f"/>
<circle cx="1302.6" cy="1797.9" r="6.3" fill="#00f"/>
<circle cx="1311.6" cy="1828.1" r="6.3" fill="#00f"/>
<circle cx="1320.6" cy="1796.9" r="6.3" fill="#00f"/>
<circle cx="1329.6" cy="1789.2" r="6.3" fill="#00f"/>
<circle cx="1338.6" cy="1774.7" r="6.3" fill="#00f"/>
<circle cx="1347.6" cy="1995.6" r="6.3" fill="#00f"/>
<circle cx="1356.6" cy="1858.1" r="6.3" fill="#00f"/>
<circle cx="1365.6" cy="1911.8" r="6.3" fill="#00f"/>
<circle cx="1374.6" cy="1919.1" r="6.3" fill="#00f"/>
<circle cx="1383.6" cy="1951.1" r="6.3" fill="#00f"/>
<circle cx="1392.6" cy="1968.5" r="6.3" fill="#00f"/>
<circle cx="1401.7" cy="2002.2" r="6.3" fill="#00f"/>
<circle cx="1410.7" cy="1904.4" r="6.3" fill="#00f"/>
<circle cx="1419.7" cy="1995.6" r="6.3" fill="#00f"/>
<circle cx="1428.7" cy="1969.1" r="6.3" fill="#00f"/>
<circle cx="1437.7" cy="1859.1" r="6.3" fill="#00f"/>
<circle cx="1446.7" cy="2013.2" r="6.3" fill="#00f"/>
<circle cx="1455.7" cy="1956.3" r="6.3" fill="#00f"/>
<circle cx="1464.7" cy="1905.6" r="6.3" fill="#00f"/>
<circle cx="1473.7" cy="1987.1" r="6.3" fill="#00f"/>
<circle cx="1482.7" cy="2066.0" r="6.3" fill="#00f"/>
<circle cx="1491.7" cy="2075.5" r="6.3" fill="#00f"/>
<circle cx="1500.7" cy="1974.3" r="6.3" fill="#00f"/>
<circle cx="1509.7" cy="1890.5" r="6.3" fill="#00f"/>
<circle cx="1518.8" cy="1819.8" r="6.3" fill="#00f"/>
<circle cx="1527.8" cy="1857.5" r="6.3" fill="#00f"/>
<circle cx="1536.8" cy="2003.9" r="6.3" fill="#00f"/>
<circle cx="1545.8" cy="2015.0" r="6.3" fill="#00f"/>
<circle cx="1554.8" cy="1935.4" r="6.3" fill="#00f"/>
<circle cx="1563.8" cy="2008.4" r="6.3" fill="#00f"/>
<circle cx="1572.8" cy="1969.1" r="6.3" fill="#00f"/>
<circle cx="1581.8" cy="1837.4" r="6.3" fill="#00f"/>
<circle cx="1590.8" cy="1858.5" r="6.3" fill="#00f"/>
<circle cx="1599.8" cy="1912.7" r="6.3" fill="#00f"/>
<circle cx="1608.8" cy="1992.5" r="6.3" fill="#00f"/>
<circle cx="1617.8" cy="1972.8" r="6.3" fill="#00f"/>
<circle cx="1626.8" cy="1964.0" r="6.3" fill="#00f"/>
<circle cx="1635.8" cy="1822.3" r="6.3" fill="#00f"/>
<circle cx="1644.9" cy="1920.1" r="6.3" fill="#00f"/>
<circle cx="1653.9" cy="1809.9" r="6.3" fill="#00f"/>
<circle cx="1662.9" cy="1814.4" r="6.3" fill="#00f"/>
<circle cx="1671.9" cy="1802.2" r="6.3" fill="#00f"/>
<circle cx="1680.9" cy="1905.0" r="6.3" fill="#00f"/>
<circle cx="1689.9" cy="1846.5" r="6.3" fill="#00f"/>
<circle cx="1698.9" cy="1784.5" r="6.3" fill="#00f"/>
<circle cx="1707.9" cy="1763.4" r="6.3" fill="#00f"/>
<circle cx="1716.9" cy="1834.3" r="6.3" fill="#00f"/>
<circle cx="1725.9" cy="1961.5" r="6.3" fill="#00f"/>
<circle cx="1734.9" cy="2020.9" r="6.3" fill="#00f"/>
<circle cx="1743.9" cy="1939.8" r="6.3" fill="#00f"/>
<circle cx="1752.9" cy="1909.2" r="6.3" fill="#00f"/>
<circle cx="1762.0" cy="1961.3" r="6.3" fill="#00f"/>
<circle cx="1771.0" cy="1940.2" r="6.3" fill="#00f"/>
<circle cx="1780.0" cy="1839.0" r="6.3" fill="#00f"/>
<circle cx="1789.0" cy="1962.1" r="6.3" fill="#00f"/>
<circle cx="1798.0" cy="1920.1" r="6.3" fill="#00f"/>
<circle cx="1807.0" cy="1964.5" r="6.3" fill="#00f"/>
<circle cx="1816.0" cy="1906.5" r="6.3" fill="#00f"/>
<circle cx="1825.0" cy="2021.0" r="6.3" fill="#00f"/>
<circle cx="1834.0" cy="1929.4" r="6.3" fill="#00f"/>
<circle cx="1843.0" cy="1977.7" r="6.3" fill="#00f"/>
<circle cx="1852.0" cy="1981.2" r="6.3" fill="#00f"/>
<path d="M257.5,2193.6 L264.2,2193.1 L270.8,2192.7 L277.5,2192.2 L284.2,2191.7 L290.8,2191.1 L297.5,2190.6 L304.2,2190.0 L310.9,2189.4 L317.5,2188.7 L324.2,2188.1 L330.9,2187.4 L337.5,2186.6 L344.2,2185.9 L350.9,2185.1 L357.5,2184.3 L364.2,2183.5 L370.9,2182.6 L377.6,2181.7 L384.2,2180.8 L390.9,2179.9 L397.6,2178.9 L404.2,2177.9 L410.9,2176.9 L417.6,2175.9 L424.2,2174.8 L430.9,2173.7 L437.6,2172.5 L444.3,2171.4 L450.9,2170.2 L457.6,2169.0 L464.3,2167.7 L470.9,2166.5 L477.6,2165.2 L484.3,2163.8 L490.9,2162.5 L497.6,2161.1 L504.3,2159.7 L511.0,2158.3 L517.6,2156.8 L524.3,2155.3 L531.0,2153.8 L537.6,2152.3 L544.3,2150.7 L551.0,2149.2 L557.6,2147.6 L564.3,2145.9 L571.0,2144.3 L577.7,2142.6 L584.3,2140.9 L591.0,2139.2 L597.7,2137.5 L604.3,2135.7 L611.0,2133.9 L617.7,2132.1 L624.3,2130.3 L631.0,2128.4 L637.7,2126.6 L644.4,2124.7 L651.0,2122.8 L657.7,2120.9 L664.4,2119.0 L671.0,2117.0 L677.7,2115.0 L684.4,2113.1 L691.0,2111.1 L697.7,2109.0 L704.4,2107.0 L711.1,2105.0 L717.7,2102.9 L724.4,2100.9 L731.1,2098.8 L737.7,2096.7 L744.4,2094.6 L751.1,2092.5 L757.7,2090.4 L764.4,2088.3 L771.1,2086.1 L777.8,2084.0 L784.4,2081.9 L791.1,2079.7 L797.8,2077.5 L804.4,2075.4 L811.1,2073.2 L817.8,2071.0 L824.4,2068.9 L831.1,2066.7 L837.8,2064.5 L844.4,2062.3 L851.1,2060.2 L857.8,2058.0 L864.5,2055.8 L871.1,2053.6 L877.8,2051.5 L884.5,2049.3 L891.1,2047.1 L897.8,2045.0 L904.5,2042.8 L911.1,2040.7 L917.8,2038.5 L924.5,2036.4 L931.2,2034.2 L937.8,2032.1 L944.5,2030.0 L951.2,2027.9 L957.8,2025.8 L964.5,2023.7 L971.2,2021.6 L977.8,2019.6 L984.5,2017.5 L991.2,2015.5 L997.9,2013.5 L1004.5,2011.4 L1011.2,2009.4 L1017.9,2007.5 L1024.5,2005.5 L1031.2,2003.5 L1037.9,2001.6 L1044.5,1999.7 L1051.2,1997.8 L1057.9,1995.9 L1064.6,1994.0 L1071.2,1992.2 L1077.9,1990.4 L1084.6,1988.6 L1091.2,1986.8 L1097.9,1985.0 L1104.6,1983.3 L1111.2,1981.5 L1117.9,1979.8 L1124.6,1978.1 L1131.3,1976.5 L1137.9,1974.9 L1144.6,1973.2 L1151.3,1971.6 L1157.9,1970.1 L1164.6,1968.5 L1171.3,1967.0 L1177.9,1965.5 L1184.6,1964.0 L1191.3,1962.6 L1198.0,1961.2 L1204.6,1959.8 L1211.3,1958.4 L1218.0,1957.1 L1224.6,1955.7 L1231.3,1954.4 L1238.0,1953.2 L1244.6,1951.9 L1251.3,1950.7 L1258.0,1949.5 L1264.7,1948.4 L1271.3,1947.2 L1278.0,1946.1 L1284.7,1945.0 L1291.3,1944.0 L1298.0,1942.9 L1304.7,1941.9 L1311.3,1940.9 L1318.0,1940.0 L1324.7,1939.0 L1331.3,1938.1 L1338.0,1937.3 L1344.7,1936.4 L1351.4,1935.6 L1358.0,1934.8 L1364.7,1934.0 L1371.4,1933.2 L1378.0,1932.5 L1384.7,1931.8 L1391.4,1931.1 L1398.0,1930.5 L1404.7,1929.8 L1411.4,1929.2 L1418.1,1928.7 L1424.7,1928.1 L1431.4,1927.6 L1438.1,1927.0 L1444.7,1926.5 L1451.4,1926.1 L1458.1,1925.6 L1464.7,1925.2 L1471.4,1924.8 L1478.1,1924.4 L1484.8,1924.0 L1491.4,1923.7 L1498.1,1923.4 L1504.8,1923.0 L1511.4,1922.8 L1518.1,1922.5 L1524.8,1922.2 L1531.4,1922.0 L1538.1,1921.8 L1544.8,1921.6 L1551.5,1921.4 L1558.1,1921.2 L1564.8,1921.0 L1571.5,1920.9 L1578.1,1920.8 L1584.8,1920.6 L1591.5,1920.5 L1598.1,1920.4 L1604.8,1920.4 L1611.5,1920.3 L1618.2,1920.2 L1624.8,1920.2 L1631.5,1920.1 L1638.2,1920.1 L1644.8,1920.1 L1651.5,1920.1 L1658.2,1920.1 L1664.8,1920.1 L1671.5,1920.1 L1678.2,1920.1 L1684.9,1920.1 L1691.5,1920.1 L1698.2,1920.1 L1704.9,1920.2 L1711.5,1920.2 L1718.2,1920.2 L1724.9,1920.3 L1731.5,1920.3 L1738.2,1920.4 L1744.9,1920.4 L1751.6,1920.4 L1758.2,1920.5 L1764.9,1920.5 L1771.6,1920.6 L1778.2,1920.6 L1784.9,1920.6 L1791.6,1920.7 L1798.2,1920.7 L1804.9,1920.7 L1811.6,1920.7 L1818.3,1920.7 L1824.9,1920.7 L1831.6,1920.7 L1838.3,1920.7 L1844.9,1920.7 L1851.6,1920.7" fill="none" stroke="#f00" stroke-width="7" stroke-linejoin="round"/>
</g>
<rect x="226" y="1751" width="1658.5" height="638" fill="none" stroke="#000" stroke-width="6"/>
<line x1="1139.6" y1="1748" x2="1139.6" y2="1732" class="t"/>
<line x1="1139.6" y1="2392" x2="1139.6" y2="2408" class="t"/>
<line x1="481.5" y1="1748" x2="481.5" y2="1741" class="t"/>
<line x1="481.5" y1="2392" x2="481.5" y2="2399" class="t"/>
<line x1="810.6" y1="1748" x2="810.6" y2="1741" class="t"/>
<line x1="810.6" y1="2392" x2="810.6" y2="2399" class="t"/>
<line x1="1468.6" y1="1748" x2="1468.6" y2="1741" class="t"/>
<line x1="1468.6" y1="2392" x2="1468.6" y2="2399" class="t"/>
<line x1="1797.6" y1="1748" x2="1797.6" y2="1741" class="t"/>
<line x1="1797.6" y1="2392" x2="1797.6" y2="2399" class="t"/>
<line x1="207" y1="1880.3" x2="223" y2="1880.3" class="t"/>
<line x1="1887" y1="1880.3" x2="1903" y2="1880.3" class="t"/>
<text transform="translate(190.7,1895.3) scale(1,1.045)" class="b" font-size="42.7" text-anchor="end">7</text>
<line x1="207" y1="2014.1" x2="223" y2="2014.1" class="t"/>
<line x1="1887" y1="2014.1" x2="1903" y2="2014.1" class="t"/>
<text transform="translate(190.7,2029.1) scale(1,1.045)" class="b" font-size="42.7" text-anchor="end">0</text>
<line x1="207" y1="2147.9" x2="223" y2="2147.9" class="t"/>
<line x1="1887" y1="2147.9" x2="1903" y2="2147.9" class="t"/>
<text transform="translate(190.7,2162.9) scale(1,1.045)" class="b" font-size="42.7" text-anchor="end"><tspan dy="5.0">−</tspan><tspan dy="-5.0">7</tspan></text>
<line x1="207" y1="2281.6" x2="223" y2="2281.6" class="t"/>
<line x1="1887" y1="2281.6" x2="1903" y2="2281.6" class="t"/>
<text transform="translate(190.7,2296.6) scale(1,1.045)" class="b" font-size="42.7" text-anchor="end"><tspan dy="5.0">−</tspan><tspan dy="-5.0">14</tspan></text>
<text transform="translate(1139.6,2455.2) scale(1,1.045)" class="b" font-size="42.7" text-anchor="middle">2025.5</text>
<text transform="translate(91.0,2070.0) rotate(-90) scale(1,1.045)" class="r" font-size="42.4" text-anchor="middle">Up (mm)</text>
<text transform="translate(1054.0,2514.0) scale(1,1.045)" class="r" font-size="42.4" text-anchor="middle">Time (year)</text>
<rect x="226" y="2618" width="1658.5" height="153" fill="none" stroke="#000" stroke-width="6"/>
<text transform="translate(1055.0,2667.0) scale(1,1.045)" class="b" font-size="35.5" text-anchor="middle">24 Hour Positions Using Final Orbits (blue) and Rapid Orbits (magenta).</text>
<text transform="translate(1055.0,2707.5) scale(1,1.045)" class="b" font-size="35.5" text-anchor="middle">Processed by the Nevada Geodetic Laboratory.</text>
<text transform="translate(1055.0,2749.0) scale(1,1.045)" class="b" font-size="35.5" text-anchor="middle">Plotted on 2026-Jan-11. Last data on 2025-Sep-19.</text>
</svg></body></html>
